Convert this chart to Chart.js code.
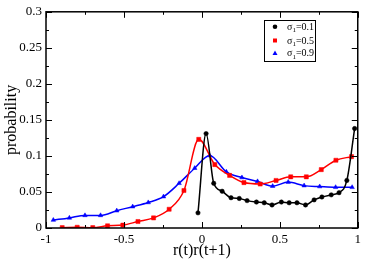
<!DOCTYPE html>
<html>
<head>
<meta charset="utf-8">
<script src="https://cdn.jsdelivr.net/npm/chart.js@4"></script>
<style>
  html, body { margin: 0; padding: 0; background: #fff; }
  canvas { display: block; }
</style>
</head>
<body>
<canvas id="chart" width="365" height="260"></canvas>
<script>
"use strict";

// values
const x01 = [-0.025, 0.027, 0.076, 0.13, 0.187, 0.24, 0.29, 0.35, 0.40, 0.45, 0.51, 0.56, 0.61, 0.665, 0.72, 0.77, 0.83, 0.88, 0.93, 0.98];
const y01 = [0.021, 0.131, 0.062, 0.051, 0.042, 0.041, 0.038, 0.036, 0.035, 0.032, 0.036, 0.035, 0.035, 0.032, 0.039, 0.043, 0.046, 0.049, 0.066, 0.138];

const x05 = [-0.896, -0.80, -0.70, -0.605, -0.507, -0.41, -0.31, -0.21, -0.115, -0.02, 0.083, 0.178, 0.27, 0.374, 0.476, 0.57, 0.67, 0.766, 0.86, 0.96];
const y05 = [0.0005, 0.001, 0.0005, 0.003, 0.004, 0.009, 0.014, 0.026, 0.052, 0.123, 0.088, 0.073, 0.063, 0.061, 0.066, 0.071, 0.071, 0.081, 0.094, 0.099];

const x09 = [-0.953, -0.85, -0.75, -0.65, -0.546, -0.444, -0.344, -0.246, -0.146, -0.046, 0.05, 0.157, 0.257, 0.357, 0.454, 0.554, 0.656, 0.756, 0.858, 0.964];
const y09 = [0.011, 0.014, 0.0175, 0.0175, 0.024, 0.0296, 0.0354, 0.0435, 0.062, 0.083, 0.1005, 0.078, 0.070, 0.0646, 0.058, 0.0637, 0.0588, 0.0575, 0.0565, 0.0565];

const seriesNames = ["0.1", "0.5", "0.9"];
const xTicks = [-1, -0.5, 0, 0.5, 1];
const yTicks = [0, 0.05, 0.1, 0.15, 0.2, 0.25, 0.3];

const serif = "'Liberation Serif', 'DejaVu Serif', serif";

function pts(xs, ys) {
    return xs.map((x, i) => ({ x: x, y: ys[i] }));
}

// inward ticks on all four sides + frame
const frameTicks = {
    id: "frameTicks",
    afterDraw(chart) {
        const ctx = chart.ctx;
        const a = chart.chartArea;
        const xs = chart.scales.x;
        const ys = chart.scales.y;
        ctx.save();
        ctx.strokeStyle = "#000";
        ctx.lineWidth = 1;
        ctx.beginPath();
        for (let v = -1; v <= 1.0001; v += 0.25) {
            const px = Math.round(xs.getPixelForValue(v)) + 0.5;
            const major = Math.abs(v * 2 - Math.round(v * 2)) < 1e-6;
            const len = major ? 6 : 3;
            ctx.moveTo(px, a.bottom); ctx.lineTo(px, a.bottom - len);
            ctx.moveTo(px, a.top); ctx.lineTo(px, a.top + len);
        }
        for (let v = 0; v <= 0.3001; v += 0.025) {
            const py = Math.round(ys.getPixelForValue(v)) + 0.5;
            const major = Math.abs(v * 20 - Math.round(v * 20)) < 1e-6;
            const len = major ? 6 : 3;
            ctx.moveTo(a.left, py); ctx.lineTo(a.left + len, py);
            ctx.moveTo(a.right, py); ctx.lineTo(a.right - len, py);
        }
        ctx.stroke();
        ctx.lineWidth = 1.5;
        ctx.strokeRect(a.left, a.top, a.right - a.left, a.bottom - a.top);
        ctx.restore();
    }
};

// legend box with subscript sigma labels
const sigmaLegend = {
    id: "sigmaLegend",
    afterDraw(chart) {
        const ctx = chart.ctx;
        ctx.save();
        ctx.fillStyle = "#fff";
        ctx.fillRect(264.5, 20.5, 51, 41);
        ctx.strokeStyle = "#000";
        ctx.lineWidth = 1;
        ctx.strokeRect(264.5, 20.5, 51, 41);
        const rows = [26.7, 40.5, 53];
        chart.data.datasets.forEach((ds, i) => {
            const y = rows[i];
            ctx.fillStyle = ds.borderColor;
            ctx.beginPath();
            if (ds.pointStyle === "circle") {
                ctx.arc(275, y, 2.3, 0, Math.PI * 2);
            } else if (ds.pointStyle === "rect") {
                ctx.rect(273, y - 2, 4, 4);
            } else {
                ctx.moveTo(275, y - 2.5); ctx.lineTo(277.5, y + 2); ctx.lineTo(272.5, y + 2); ctx.closePath();
            }
            ctx.fill();
            ctx.fillStyle = "#000";
            ctx.textBaseline = "alphabetic";
            ctx.font = "10px " + serif;
            ctx.fillText("\u03c3", 287, y + 3);
            const w1 = ctx.measureText("\u03c3").width;
            ctx.font = "7px " + serif;
            ctx.fillText("1", 287 + w1, y + 5.5);
            const w2 = ctx.measureText("1").width;
            ctx.font = "10px " + serif;
            ctx.fillText("=" + seriesNames[i], 287 + w1 + w2, y + 3);
        });
        ctx.restore();
    }
};

const canvas_place = document.getElementById("chart");

new Chart(canvas_place, {
    type: "line",
    data: {
        datasets: [
            {
                data: pts(x01, y01),
                borderColor: "#000000",
                backgroundColor: "#000000",
                pointStyle: "circle",
                pointRadius: 2.2,
                pointBorderWidth: 0.5,
                borderWidth: 1.5,
                cubicInterpolationMode: "monotone",
            },
            {
                data: pts(x05, y05),
                borderColor: "#ff0000",
                backgroundColor: "#ff0000",
                pointStyle: "rect",
                pointRadius: 2.9,
                pointBorderWidth: 0.5,
                borderWidth: 1.5,
                cubicInterpolationMode: "monotone",
            },
            {
                data: pts(x09, y09),
                borderColor: "#0000ff",
                backgroundColor: "#0000ff",
                pointStyle: "triangle",
                pointRadius: 2.6,
                pointBorderWidth: 0.5,
                borderWidth: 1.5,
                cubicInterpolationMode: "monotone",
            },
        ],
    },
    options: {
        responsive: false,
        animation: false,
        devicePixelRatio: 1,
        layout: { padding: { top: 5, right: 5, left: 0, bottom: 0 } },
        scales: {
            x: {
                type: "linear",
                min: -1,
                max: 1,
                afterFit(s) { s.height = 32; },
                afterBuildTicks(s) { s.ticks = xTicks.map(v => ({ value: v })); },
                grid: { display: false, drawTicks: false },
                border: { display: false },
                ticks: {
                    autoSkip: false,
                    maxRotation: 0,
                    padding: 4,
                    color: "#000",
                    font: { family: serif, size: 13 },
                    callback: v => String(v),
                },
                title: {
                    display: true,
                    text: "r(t)r(t+1)",
                    color: "#000",
                    padding: 0,
                    font: { family: serif, size: 16 },
                },
            },
            y: {
                min: 0,
                max: 0.3,
                afterFit(s) { s.width = 46; },
                afterBuildTicks(s) { s.ticks = yTicks.map(v => ({ value: v })); },
                grid: { display: false, drawTicks: false },
                border: { display: false },
                ticks: {
                    autoSkip: false,
                    padding: 4,
                    color: "#000",
                    font: { family: serif, size: 13 },
                    callback: v => String(+v.toFixed(3)),
                },
                title: {
                    display: true,
                    text: "probability",
                    color: "#000",
                    padding: { top: 2, bottom: 0 },
                    font: { family: serif, size: 16 },
                },
            },
        },
        plugins: {
            legend: { display: false },
            tooltip: { enabled: false },
        },
    },
    plugins: [frameTicks, sigmaLegend],
});
</script>
</body>
</html>
